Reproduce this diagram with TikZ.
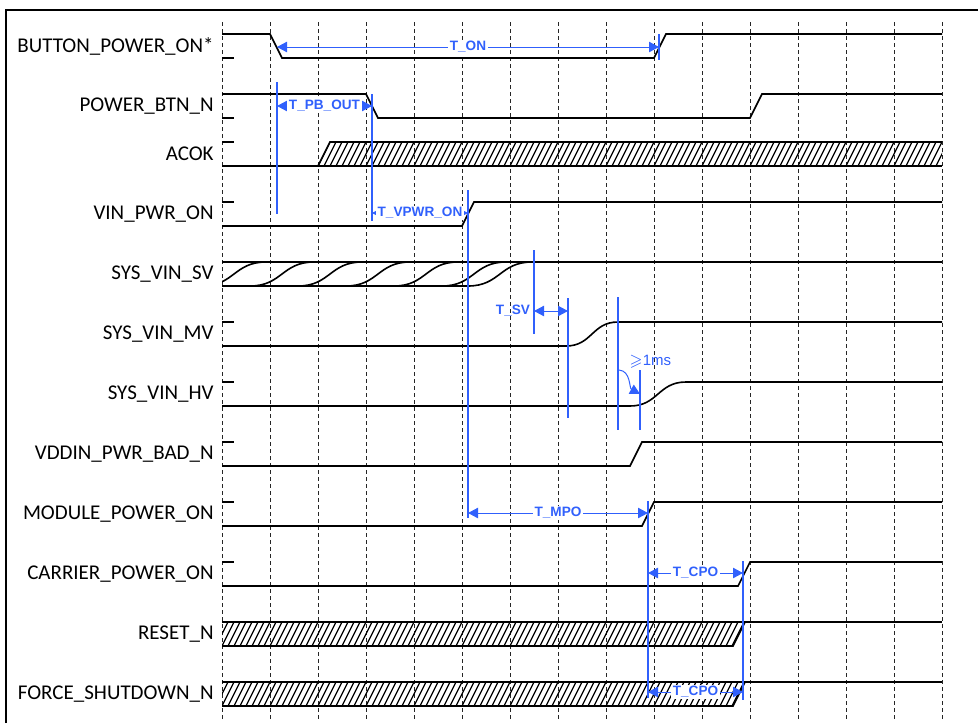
\documentclass[tikz,border=0pt]{standalone}
\usepackage{fontspec}
\usepackage{amssymb}
\setmainfont{Carlito}
\newfontfamily\annfont{Liberation Sans}
\usetikzlibrary{arrows.meta}
\definecolor{tblue}{RGB}{48,96,252}

\begin{document}
\begin{tikzpicture}[x=0.5pt, y=-0.5pt,
    frame/.style={line width=0.7pt, black},
    grid/.style={dash pattern=on 2pt off 1.5pt, line width=0.45pt, black!85},
    sig/.style={line width=0.8pt, black},
    tick/.style={line width=0.6pt, black},
    hatch/.style={line width=0.6pt, black},
    lbl/.style={anchor=east, inner sep=0pt, font=\fontsize{10.5}{12}\selectfont},
    marker/.style={line width=0.6pt, tblue},
    dim/.style={{Triangle[length=5pt,width=5.2pt]}-{Triangle[length=5pt,width=5.2pt]}, line width=0.5pt, tblue},
    dimtxt/.style={fill=white, inner sep=0.8pt, text=tblue, font=\annfont\bfseries\fontsize{6.8}{8}\selectfont}
  ]
    \useasboundingbox (0,0) rectangle (978,723);
    \draw[frame] (6,723) -- (6,10) -- (978,10);

    % grid
    \foreach \x in {222,270,...,942}
      \draw[grid] (\x,22) -- (\x,721);

    % signal names
    \node[lbl] (nbtn)   at (214,46)  {BUTTON\_POWER\_ON*};
    \node[lbl] (npbtn)  at (214,106) {POWER\_BTN\_N};
    \node[lbl] (nacok)  at (214,154) {ACOK};
    \node[lbl] (nvin)   at (214,214) {VIN\_PWR\_ON};
    \node[lbl] (nsv)    at (214,274) {SYS\_VIN\_SV};
    \node[lbl] (nmv)    at (214,334) {SYS\_VIN\_MV};
    \node[lbl] (nhv)    at (214,394) {SYS\_VIN\_HV};
    \node[lbl] (nbad)   at (214,454) {VDDIN\_PWR\_BAD\_N};
    \node[lbl] (nmod)   at (214,514) {MODULE\_POWER\_ON};
    \node[lbl] (ncar)   at (214,574) {CARRIER\_POWER\_ON};
    \node[lbl] (nrst)   at (214,634) {RESET\_N};
    \node[lbl] (nfsd)   at (214,694) {FORCE\_SHUTDOWN\_N};

    % level ticks
    \foreach \y in {58,118,142,202,322,382,442,502,562}
      \draw[tick] (222,\y) -- (234,\y);

    % waveforms
    \draw[sig] (222,34) -- (270,34) -- (282,58) -- (654,58) -- (666,34) -- (942,34);
    \draw[sig] (222,94) -- (366,94) -- (378,118) -- (750,118) -- (762,94) -- (942,94);

    \begin{scope}
      \clip (318,166) -- (330,142) -- (942,142) -- (942,166) -- cycle;
      \foreach \x in {306,312,...,948}
        \draw[hatch] (\x,166) -- ++(12,-24);
    \end{scope}
    \draw[sig] (222,166) -- (942,166);
    \draw[sig] (318,166) -- (330,142) -- (942,142);

    \draw[sig] (222,226) -- (462,226) -- (474,202) -- (942,202);

    \draw[sig] (222,262) -- (942,262);
    \draw[sig] (222,286) -- (468,286) .. controls (500,286) and (500,262) .. (532,262);
    \begin{scope}
      \clip (222,250) rectangle (600,300);
      \foreach \x in {202,250,...,442}
        \draw[sig] (\x,286) .. controls (\x+32,286) and (\x+32,262) .. (\x+64,262);
    \end{scope}

    \draw[sig] (222,346) -- (566,346) .. controls (592,346) and (592,322) .. (618,322) -- (942,322);
    \draw[sig] (222,406) -- (630,406) .. controls (658,406) and (658,382) .. (686,382) -- (942,382);
    \draw[sig] (222,466) -- (630,466) -- (642,442) -- (942,442);
    \draw[sig] (222,526) -- (642,526) -- (654,502) -- (942,502);
    \draw[sig] (222,586) -- (738,586) -- (750,562) -- (942,562);

    \foreach \y in {622,682} {
      \begin{scope}
        \clip (222,\y) -- (745,\y) -- (733,\y+24) -- (222,\y+24) -- cycle;
        \foreach \x in {210,216,...,750}
          \draw[hatch] (\x,\y+24) -- ++(12,-24);
      \end{scope}
      \draw[sig] (222,\y) -- (942,\y);
      \draw[sig] (222,\y+24) -- (733,\y+24) -- (745,\y);
    }

    % timing markers
    \draw[marker] (659,34) -- (659,60);
    \draw[dim] (277,47) -- node[dimtxt] (ton) {T\_ON} (659,47);

    \draw[marker] (277,82) -- (277,214);
    \draw[marker] (372,94) -- (372,221);
    \draw[dim] (277,106) -- node[dimtxt] (tpb) {T\_PB\_OUT} (372,106);

    \draw[marker] (468,190) -- (468,518);
    \draw[dim] (372,213) -- node[dimtxt] (tvpwr) {T\_VPWR\_ON} (468,213);

    \draw[marker] (534,250) -- (534,334);
    \draw[marker] (568,298) -- (568,418);
    \draw[dim] (534,311) -- (568,311);
    \node[dimtxt, fill=none, anchor=east] (tsv) at (532,311) {T\_SV};

    \draw[marker] (618,297) -- (618,430);
    \draw[marker] (640,370) -- (640,430);
    \draw[-{Triangle[length=5pt,width=5.2pt]}, line width=0.5pt, tblue]
      (619,370) .. controls (631,371) and (629,388) .. (640,394);
    \node[anchor=west, inner sep=0pt, text=tblue, font=\annfont\fontsize{7.5}{9}\selectfont] (tms) at (629,362) {$\geqslant$1ms};

    \draw[marker] (648,501) -- (648,698);
    \draw[dim] (468,513) -- node[dimtxt] (tmpo) {T\_MPO} (648,513);

    \draw[marker] (743,561) -- (743,700);
    \draw[dim] (648,573) -- node[dimtxt] (tcpo) {T\_CPO} (743,573);
    \draw[dim] (648,692) -- node[dimtxt] (tcpob) {T\_CPO} (743,692);
  \end{tikzpicture}
\end{document}
